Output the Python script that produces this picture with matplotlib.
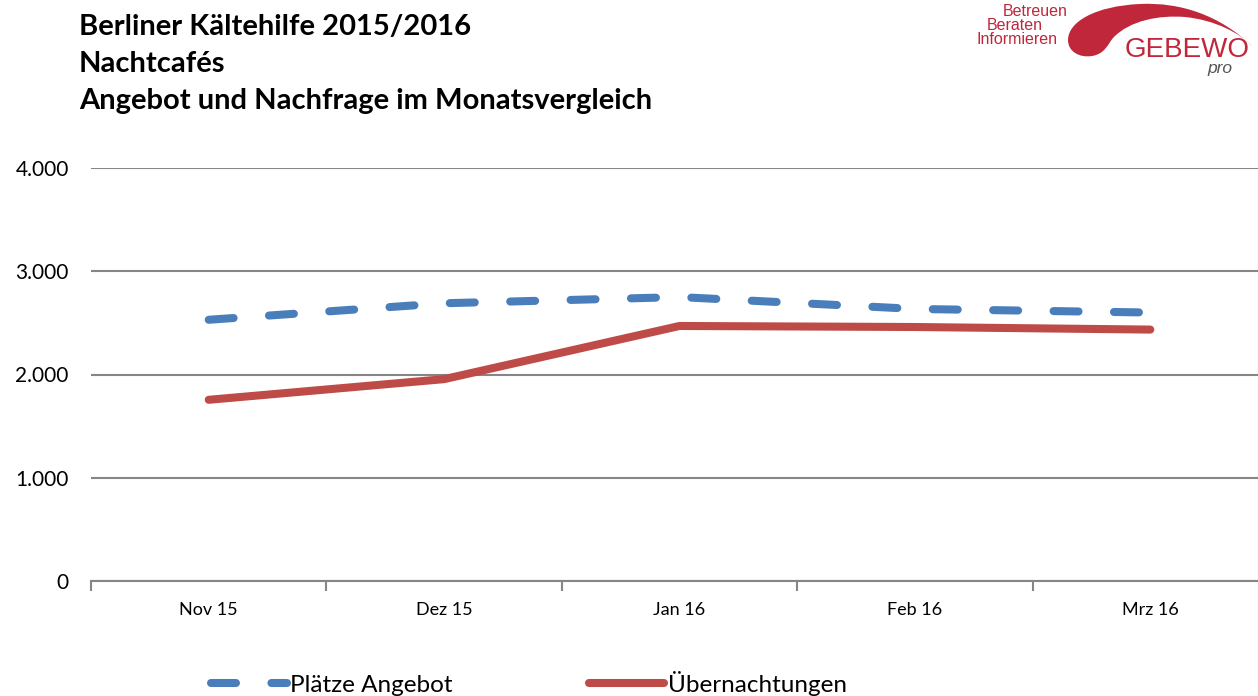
import matplotlib.pyplot as plt
from matplotlib.patches import PathPatch
from matplotlib.path import Path
from matplotlib.ticker import FixedLocator, FuncFormatter

# Data
months = ["Nov 15", "Dez 15", "Jan 16", "Feb 16", "Mrz 16"]
plaetze_angebot = [2530, 2690, 2750, 2635, 2600]
uebernachtungen = [1755, 1955, 2470, 2460, 2435]

title_lines = ["Berliner Kältehilfe 2015/2016", "Nachtcafés",
               "Angebot und Nachfrage im Monatsvergleich"]

blue = "#4a7ebb"
red = "#be4b48"
grid_gray = "#868686"
logo_red = "#c0273a"

plt.rcParams['font.family'] = ['Lato', 'DejaVu Sans']

fig = plt.figure(figsize=(12.58, 6.96), dpi=100)
W, H = 1258, 696
# axes: x from 91px to ~1268px, y from 168px (4000) to 581px (0)
ax = fig.add_axes([91 / W, 1 - 581 / H, 1177 / W, 413 / H])

x = list(range(len(months)))
ax.plot(x, plaetze_angebot, color=blue, lw=5.8, dashes=(3.1, 4.4),
        dash_capstyle='round', solid_capstyle='round', label="Plätze Angebot")
ax.plot(x, uebernachtungen, color=red, lw=5.8, solid_capstyle='round',
        label="Übernachtungen")

ax.set_xlim(-0.5, len(months) - 0.5)
ax.set_ylim(0, 4000)
ax.set_yticks([0, 1000, 2000, 3000, 4000])
ax.yaxis.set_major_formatter(FuncFormatter(lambda v, p: f"{int(v):,}".replace(",", ".")))
ax.grid(axis='y', color=grid_gray, lw=1.5)
ax.set_axisbelow(True)
for s in ['left', 'right', 'top']:
    ax.spines[s].set_visible(False)
ax.spines['bottom'].set_color(grid_gray)
ax.spines['bottom'].set_linewidth(1.5)
ax.tick_params(axis='y', length=0, labelsize=15, pad=16, colors='black')

ax.set_xticks(x)
ax.set_xticklabels(months)
ax.tick_params(axis='x', which='major', length=0, labelsize=13, pad=15)
ax.xaxis.set_minor_locator(FixedLocator([i - 0.5 for i in range(len(months) + 1)]))
ax.tick_params(axis='x', which='minor', length=7, width=1.5, color=grid_gray, direction='out')

# Titles
for i, t in enumerate(title_lines):
    fig.text(79 / W, 1 - (27 + 37 * i) / H, t, fontsize=21, fontweight='bold',
             va='center', ha='left')

# Legend
fig.legend(loc='center', bbox_to_anchor=(529 / W, 1 - 683 / H), ncol=2, frameon=False,
           fontsize=17.5, handlelength=3.1, handletextpad=0.15, columnspacing=5.6,
           borderaxespad=0, borderpad=0)

# Logo
logo_font = ['Liberation Sans', 'DejaVu Sans']
for t, xr, yc in [("Betreuen", 1068, 11), ("Beraten", 1043, 25), ("Informieren", 1058, 40)]:
    fig.text(xr / W, 1 - yc / H, t, color=logo_red, fontsize=11.5,
             ha='right', va='center', family=logo_font)

pts = [(1253, 47),
       (1220, 15), (1180, 2), (1140, 4),
       (1095, 6), (1068, 22), (1068, 40),
       (1068, 52), (1080, 58), (1092, 56),
       (1105, 54), (1108, 44), (1113, 38),
       (1130, 20), (1160, 15), (1185, 17),
       (1215, 20), (1240, 33), (1253, 47)]
codes = [Path.MOVETO] + [Path.CURVE4] * (len(pts) - 1)
verts = [(px / W, 1 - py / H) for px, py in pts]
fig.patches.append(PathPatch(Path(verts, codes), transform=fig.transFigure,
                             facecolor=logo_red, edgecolor='none'))
fig.text(1250 / W, 1 - 57 / H, "GEBEWO", color=logo_red, fontsize=20,
         ha='right', va='baseline', family=logo_font)
fig.text(1232 / W, 1 - 73 / H, "pro", color='#555555', fontsize=12.5, style='italic',
         ha='right', va='baseline', family=logo_font)

fig.savefig("out.png", dpi=100)
